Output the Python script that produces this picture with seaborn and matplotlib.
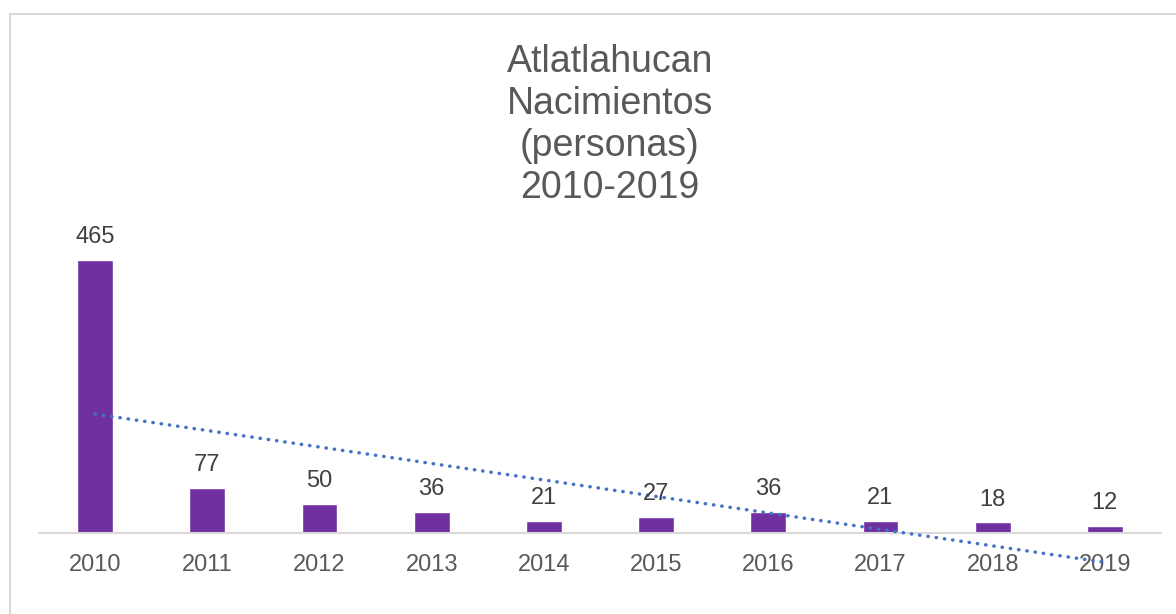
import numpy as np
import pandas as pd
import matplotlib
matplotlib.use("Agg")
import matplotlib.pyplot as plt
from matplotlib.patches import Rectangle
import seaborn as sns

# data
years = ["2010", "2011", "2012", "2013", "2014", "2015", "2016", "2017", "2018", "2019"]
births = [465, 77, 50, 36, 21, 27, 36, 21, 18, 12]
title_lines = ["Atlatlahucan", "Nacimientos", "(personas)", "2010-2019"]

sns.set_theme(style="white")
plt.rcParams["font.family"] = ["Liberation Sans", "DejaVu Sans"]

df = pd.DataFrame({"year": years, "births": births})

fig = plt.figure(figsize=(11.76, 6.14), dpi=100)
ax = fig.add_axes([0.0332, 0.1319, 0.954, 0.4782])

sns.barplot(data=df, x="year", y="births", color="#7030A0", width=0.32,
            saturation=1, ax=ax)

# linear trend line (dotted), like the spreadsheet one
pos = np.arange(len(births))
slope, intercept = np.polyfit(pos + 1, births, 1)
ax.plot(pos, slope * (pos + 1) + intercept, linestyle=(0, (0.1, 2.3)),
        color="#4472C4", lw=2.5, dash_capstyle="round", clip_on=False, zorder=3)

for x, v in zip(pos, births):
    ax.annotate(str(v), (x, v), xytext=(0, 16.5), textcoords="offset points",
                ha="center", va="center", fontsize=17, color="#404040")

ax.set_xlim(-0.5, len(years) - 0.5)
ax.set_ylim(0, 500)
ax.set_xlabel("")
ax.set_ylabel("")
ax.set_yticks([])
ax.tick_params(axis="x", length=0, pad=15, labelsize=17, labelcolor="#595959")
for s in ["top", "right", "left"]:
    ax.spines[s].set_visible(False)
ax.spines["bottom"].set_color("#D9D9D9")
ax.spines["bottom"].set_linewidth(1.5)

fig.text(610 / 1176, 1 - 44 / 614, "\n".join(title_lines), ha="center", va="top",
         fontsize=27, color="#595959", linespacing=1.21)

fig.patches.append(Rectangle((10 / 1176, -0.1), 1.2, 1.0772, fill=False,
                             edgecolor="#D9D9D9", lw=1.5, transform=fig.transFigure))

fig.savefig("out.png", dpi=100)
